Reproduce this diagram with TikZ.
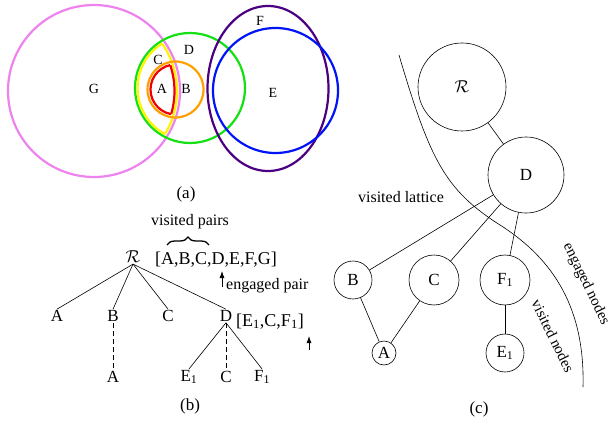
\documentclass[tikz,border=0pt]{standalone}
\usepackage{fontspec}
\setmainfont{Liberation Serif}
\usetikzlibrary{arrows.meta,decorations.pathreplacing}
\definecolor{setG}{RGB}{238,130,238}
\definecolor{setD}{RGB}{20,225,20}
\definecolor{setC}{RGB}{255,245,0}
\definecolor{setB}{RGB}{255,160,0}
\definecolor{setA}{RGB}{240,0,0}
\definecolor{setF}{RGB}{75,0,130}
\definecolor{setE}{RGB}{0,20,245}
\begin{document}
\begin{tikzpicture}[x=1pt,y=-1pt,
    ring/.style={line width=2.2pt},
    lbl/.style={font=\fontsize{14}{16}\selectfont},
    tn/.style={font=\fontsize{17}{19}\selectfont, inner sep=1pt},
    cn/.style={draw, circle, line width=0.6pt, inner sep=0pt, font=\fontsize{17}{19}\selectfont},
    edge/.style={line width=0.6pt},
    txt/.style={font=\fontsize{16}{18}\selectfont},
    side/.style={font=\fontsize{15}{17}\selectfont, rotate=-64, inner sep=0pt},
    capt/.style={font=\fontsize{17}{19}\selectfont},
    up/.style={line width=0.8pt, -{Latex[length=7pt,width=5pt]}}]
    \useasboundingbox (0,0) rectangle (613,425);
    % (a) the sets
    \draw[ring, setG] (94,91) circle (86);
    \draw[ring, setD] (190,88) circle (55);
    \begin{scope}
        \clip (94,91) circle (83);
        \draw[ring, setC] (190,88) circle (52.5);
    \end{scope}
    \begin{scope}
        \clip (190,88) circle (52.5);
        \draw[ring, setC] (94,91) circle (83);
    \end{scope}
    \draw[ring, setB] (175.5,89.5) circle (28);
    \begin{scope}
        \clip (94,91) circle (80.5);
        \draw[ring, setA] (175.5,89.5) circle (25);
    \end{scope}
    \begin{scope}
        \clip (175.5,89.5) circle (25);
        \draw[ring, setA] (94,91) circle (80.5);
    \end{scope}
    \draw[ring, setF] (268,88.5) ellipse (60.5 and 82.5);
    \draw[ring, setE] (275.5,90.5) circle (62.5);
    \node[lbl] (la) at (162,89) {A};
    \node[lbl] (lb) at (186,89) {B};
    \node[lbl] (lc) at (158,60) {C};
    \node[lbl] (ld) at (189,50) {D};
    \node[lbl] (le) at (273,93) {E};
    \node[lbl] (lf) at (260,21) {F};
    \node[lbl] (lg) at (94,89) {G};
    \node[capt] (capa) at (186,194) {(a)};

    % (b) the search tree
    \node[tn] (r) at (133,257) {$\mathcal{R}$};
    \node[tn] (a1) at (57,316) {A};
    \node[tn] (b1) at (113,316) {B};
    \node[tn] (c1) at (168,316) {C};
    \node[tn] (d1) at (226,316) {D};
    \node[tn] (a2) at (113,377) {A};
    \node[tn] (e2) at (189,377) {E\textsubscript{1}};
    \node[tn] (c2) at (226,377) {C};
    \node[tn] (f2) at (262,377) {F\textsubscript{1}};
    \foreach \k in {a1,b1,c1,d1}
        \draw[edge] (r.south) -- (\k.north);
    \draw[edge, dash pattern=on 5pt off 3pt] (b1) -- (a2);
    \draw[edge] (d1.south) -- (e2.north);
    \draw[edge, dash pattern=on 5pt off 3pt] (d1) -- (c2);
    \draw[edge] (d1.south) -- (f2.north);
    \node[font=\fontsize{18}{20}\selectfont, anchor=base west, inner sep=0pt] (pairs) at (155,264) {[A,B,C,D,E,F,G]};
    \node[txt] (vp) at (190,222) {visited pairs};
    \coordinate (br1) at (167,245);
    \coordinate (br2) at (209,245);
    \draw[line width=1.3pt, decorate, decoration={brace, amplitude=8pt}] (br1) -- (br2);
    \coordinate (ar1) at (222,287);
    \coordinate (ar2) at (222,271);
    \draw[up] (ar1) -- (ar2);
    \node[txt, anchor=base west, inner sep=0pt] (ep) at (226,289) {engaged pair};
    \node[font=\fontsize{18}{20}\selectfont, anchor=base west, inner sep=0pt] (sub) at (236,326) {[E\textsubscript{1},C,F\textsubscript{1}]};
    \coordinate (ar3) at (309,350);
    \coordinate (ar4) at (309,336);
    \draw[up] (ar3) -- (ar4);
    \node[capt] (capb) at (190,406) {(b)};

    % (c) the lattice
    \node[cn, minimum size=88pt] (cr) at (462,87) {$\mathcal{R}$};
    \node[cn, minimum size=76pt] (cd) at (526,175) {D};
    \node[cn, minimum size=38pt] (cb) at (353,280) {B};
    \node[cn, minimum size=50pt] (cc) at (434,280) {C};
    \node[cn, minimum size=50pt] (cf) at (505,280) {F\textsubscript{1}};
    \node[cn, minimum size=24pt] (ca) at (384,353) {A};
    \node[cn, minimum size=38pt] (ce) at (505,353) {E\textsubscript{1}};
    \draw[edge] (cr) -- (cd);
    \draw[edge] (cd) -- (cb);
    \draw[edge] (cd) -- (cc);
    \draw[edge] (cd) -- (cf);
    \draw[edge] (cb) -- (ca);
    \draw[edge] (cc) -- (ca);
    \draw[edge] (cf) -- (ce);
    \draw[edge] (399,55) .. controls (430,160) and (445,190) .. (500,225)
        .. controls (555,260) and (585,310) .. (583,387);
    \node[txt] (vl) at (401,197) {visited lattice};
    \node[side] (en) at (586,284) {engaged nodes};
    \node[side] (vn) at (553,336) {visited nodes};
    \node[capt] (capc) at (479,409) {(c)};
\end{tikzpicture}
\end{document}
